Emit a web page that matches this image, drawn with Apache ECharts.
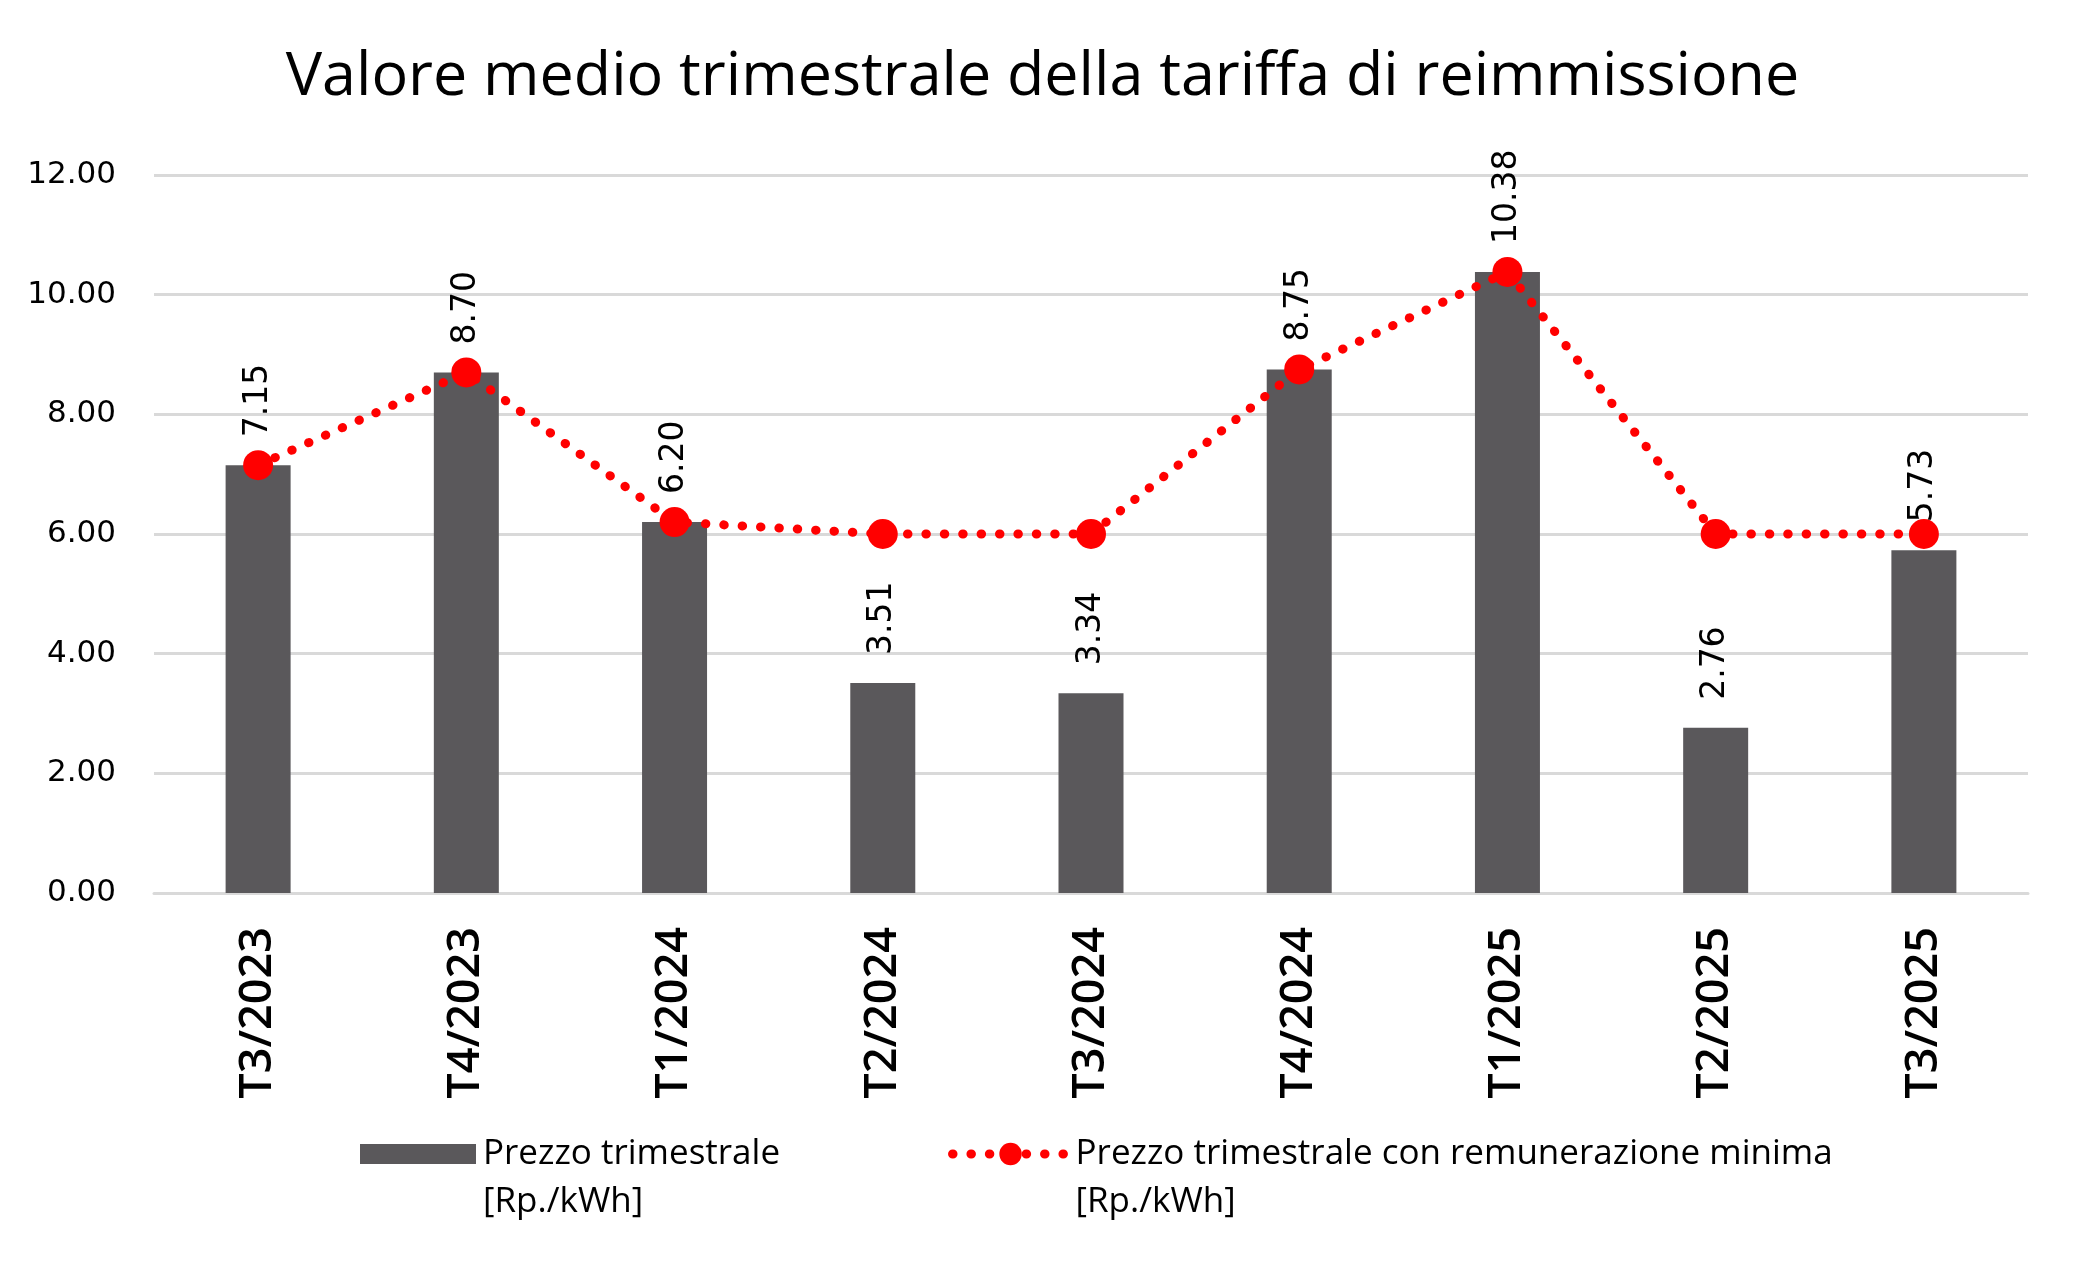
<!DOCTYPE html>
<html>
<head>
<meta charset="utf-8">
<script src="https://cdn.jsdelivr.net/npm/echarts@6/dist/echarts.min.js"></script>
<style>
html,body{margin:0;padding:0;background:#fff;}
#chart{width:2085px;height:1283px;}
</style>
</head>
<body>
<div id="chart"></div>
<script>
const titleText = 'Valore medio trimestrale della tariffa di reimmissione';
const categories = ['T3/2023','T4/2023','T1/2024','T2/2024','T3/2024','T4/2024','T1/2025','T2/2025','T3/2025'];
const quarterlyPrice = [7.15, 8.70, 6.20, 3.51, 3.34, 8.75, 10.38, 2.76, 5.73];
const priceWithMinimum = [7.15, 8.70, 6.20, 6.00, 6.00, 8.75, 10.38, 6.00, 6.00];
const yTicks = { min: 0, max: 12, interval: 2 };
const seriesNames = ['Prezzo trimestrale\n[Rp./kWh]', 'Prezzo trimestrale con remunerazione minima\n[Rp./kWh]'];

const dotted = [0.5, 17.9];
const chart = echarts.init(document.getElementById('chart'));
chart.setOption({
  backgroundColor: '#ffffff',
  animation: false,
  title: {
    text: titleText,
    left: 'center',
    top: 42,
    textStyle: { fontFamily: 'Open Sans', fontSize: 61, fontWeight: 'normal', color: '#000' }
  },
  grid: { left: 154, right: 57, top: 175, bottom: 390, containLabel: false },
  legend: {
    left: 355,
    top: 1077,
    itemWidth: 116,
    itemHeight: 28,
    itemGap: 168,
    formatter: name => '{t|}\n' + name.split('\n').map(s => '{t|' + s + '}').join('\n'),
    textStyle: {
      fontFamily: 'Open Sans', fontSize: 35, color: '#000', lineHeight: 48,
      rich: { t: { fontFamily: 'Open Sans', fontSize: 35, color: '#000', lineHeight: 48, padding: [0, 0, 0, 2] } }
    },
    data: [
      { name: seriesNames[0], icon: 'path://M0,0H116V20H0Z' },
      { name: seriesNames[1], lineStyle: { width: 9, type: dotted, cap: 'round', color: '#ff0000' } }
    ]
  },
  xAxis: {
    type: 'category',
    data: categories,
    axisLine: { show: true, lineStyle: { color: '#d9d9d9', width: 3 } },
    axisTick: { show: false },
    axisLabel: {
      rotate: 90, margin: 34, interval: 0,
      fontFamily: 'Open Sans', fontSize: 45, fontWeight: 600, color: '#000'
    }
  },
  yAxis: {
    type: 'value',
    min: yTicks.min, max: yTicks.max, interval: yTicks.interval,
    axisLine: { show: false },
    axisTick: { show: false },
    splitLine: { lineStyle: { color: '#d9d9d9', width: 3 } },
    axisLabel: {
      margin: 38,
      formatter: v => v.toFixed(2),
      fontFamily: 'DejaVu Sans', fontSize: 31, color: '#000'
    }
  },
  series: [
    {
      name: seriesNames[0],
      type: 'bar',
      data: quarterlyPrice,
      barWidth: 65,
      itemStyle: { color: '#5a585b' },
      label: {
        show: true,
        position: 'top',
        distance: 28,
        rotate: 90,
        align: 'left',
        verticalAlign: 'middle',
        formatter: p => p.value.toFixed(2),
        fontFamily: 'DejaVu Sans', fontSize: 33, color: '#000'
      },
      z: 2
    },
    {
      name: seriesNames[1],
      type: 'line',
      data: priceWithMinimum,
      symbol: 'circle',
      symbolSize: 30,
      itemStyle: { color: '#ff0000' },
      lineStyle: { color: '#ff0000', width: 9, type: dotted, cap: 'round' },
      label: { show: false },
      z: 3
    }
  ]
});
</script>
</body>
</html>
